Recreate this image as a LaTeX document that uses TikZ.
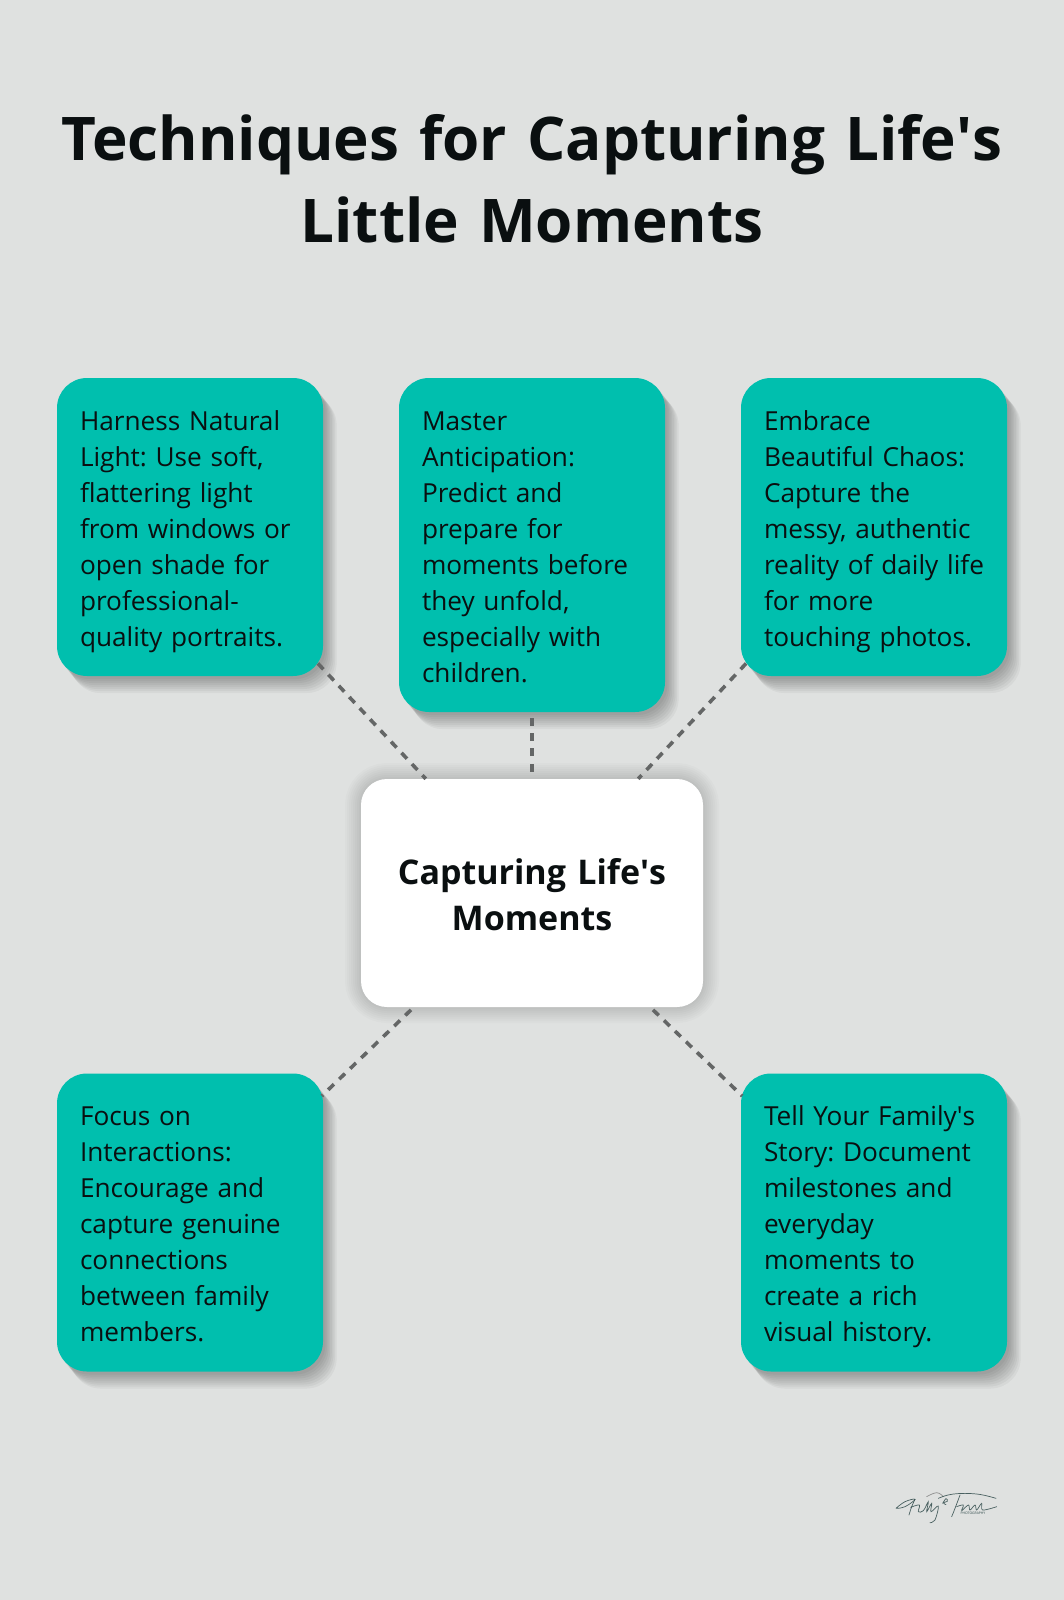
\documentclass[tikz,border=0pt]{standalone}
\usepackage{fontspec}
\setmainfont[WordSpace=0.8]{Open Sans}
\usetikzlibrary{calc}

\definecolor{pagegrey}{HTML}{DFE1E0}
\definecolor{tealbox}{HTML}{00BFAE}
\definecolor{inkdark}{HTML}{0A0F10}
\definecolor{linkgrey}{HTML}{646666}
\definecolor{signink}{HTML}{2F4A4A}

\newcommand{\apos}{\textquotesingle}

\tikzset{
  castlayer/.style={preaction={fill=black,opacity=0.04,
      transform canvas={shift={({0.8*#1},{-#1})}}}},
  glowlayer/.style={preaction={draw=black,opacity=0.016,line width=#1}},
  cardbox/.style={rectangle,rounded corners=30pt,fill=tealbox,text=inkdark,
    minimum width=266pt,text width=266pt,inner xsep=0pt,inner ysep=0pt,align=left,
    font=\fontsize{26.2}{36}\selectfont,
    execute at begin node={\frenchspacing\leftskip=23pt\relax\rule{0pt}{30pt}},
    execute at end node={\rule[-8pt]{0pt}{8pt}},
    castlayer=17pt,castlayer=15pt,castlayer=13pt,castlayer=11pt,
    castlayer=9pt,castlayer=7pt,castlayer=5pt,castlayer=3pt},
  hubbox/.style={rectangle,rounded corners=26pt,fill=white,text=inkdark,
    minimum width=342pt,minimum height=228pt,text width=300pt,inner sep=0pt,align=center,
    font=\bfseries\fontsize{34}{46}\selectfont,
    execute at begin node={\rule{0pt}{29pt}},
    glowlayer=32pt,glowlayer=28pt,glowlayer=24pt,glowlayer=20pt,
    glowlayer=16pt,glowlayer=12pt,glowlayer=8pt,glowlayer=4pt},
  linkline/.style={draw=linkgrey,line width=3.6pt,dash pattern=on 8pt off 7.3pt},
  signline/.style={draw=signink,line width=0.7pt,line cap=round,opacity=0.85,
    shift={(860,1470)},scale=1/3},
}

\begin{document}
\begin{tikzpicture}[x=1pt,y=-1pt]
  \fill[pagegrey] (0,0) rectangle (1064,1600);
  \useasboundingbox (0,0) rectangle (1064,1600);

  \node[text=inkdark,align=center,font=\bfseries\fontsize{60.2}{82}\selectfont,text width=1040pt,inner sep=0pt]
    (title) at (532,179) {Techniques for Capturing Life\apos s\\Little Moments};

  \node[cardbox,minimum height=298pt] (harness) at (190,527)
    {Harness Natural\\Light: Use soft,\\flattering light\\from windows or\\open shade for\\professional-\\quality portraits.};
  \node[cardbox,minimum height=334pt] (master) at (532,545)
    {Master\\Anticipation:\\Predict and\\prepare for\\moments before\\they unfold,\\especially with\\children.};
  \node[cardbox,minimum height=298pt] (embrace) at (874,527)
    {Embrace\\Beautiful Chaos:\\Capture the\\messy, authentic\\reality of daily life\\for more\\touching photos.};
  \node[cardbox,minimum height=298pt] (focus) at (190,1222.5)
    {Focus on\\Interactions:\\Encourage and\\capture genuine\\connections\\between family\\members.};
  \node[cardbox,minimum height=298pt] (story) at (874,1222.5)
    {Tell Your Family\apos s\\Story: Document\\milestones and\\everyday\\moments to\\create a rich\\visual history.};

  \node[hubbox] (hub) at (532,893) {Capturing Life\apos s\\Moments};

  \foreach \card/\startphase/\overrun in {harness/3.1/8,master/8/0,embrace/3.1/8,focus/11.5/2,story/11.5/2} {
    \draw[linkline,dash phase=\startphase,shorten >=-\overrun pt] (hub) -- (\card);
  }

  % signature
  \draw[signline] plot[smooth,tension=0.7] coordinates {(108,115) (135,95) (165,88) (135,110) (108,115)};
  \draw[signline] plot[smooth,tension=0.7] coordinates {(165,88) (155,110) (147,135)};
  \draw[signline] plot[smooth,tension=0.6] coordinates {(152,112) (178,105) (175,125) (190,122) (205,95) (200,125) (215,100) (213,125) (235,108) (225,150) (210,158)};
  \draw[signline] plot[smooth,tension=0.8] coordinates {(248,100) (258,86) (262,94) (250,98) (258,104)};
  \draw[signline,draw=gray] plot[smooth,tension=0.7] coordinates {(200,80) (230,68) (250,80)};
  \draw[signline] plot[smooth,tension=0.7] coordinates {(235,85) (280,72) (350,72) (408,85)};
  \draw[signline] plot[smooth,tension=0.7] coordinates {(300,75) (285,115) (275,140)};
  \draw[signline] plot[smooth,tension=0.6] coordinates {(290,110) (310,105) (305,122) (325,105) (330,120) (345,105) (350,120) (365,100) (368,120) (410,110)};
  \node[text=signink,font=\fontsize{3.4}{4}\selectfont,inner sep=0pt] (photolabel) at (973,1513.5) {PHOTOGRAPHY};
\end{tikzpicture}
\end{document}
